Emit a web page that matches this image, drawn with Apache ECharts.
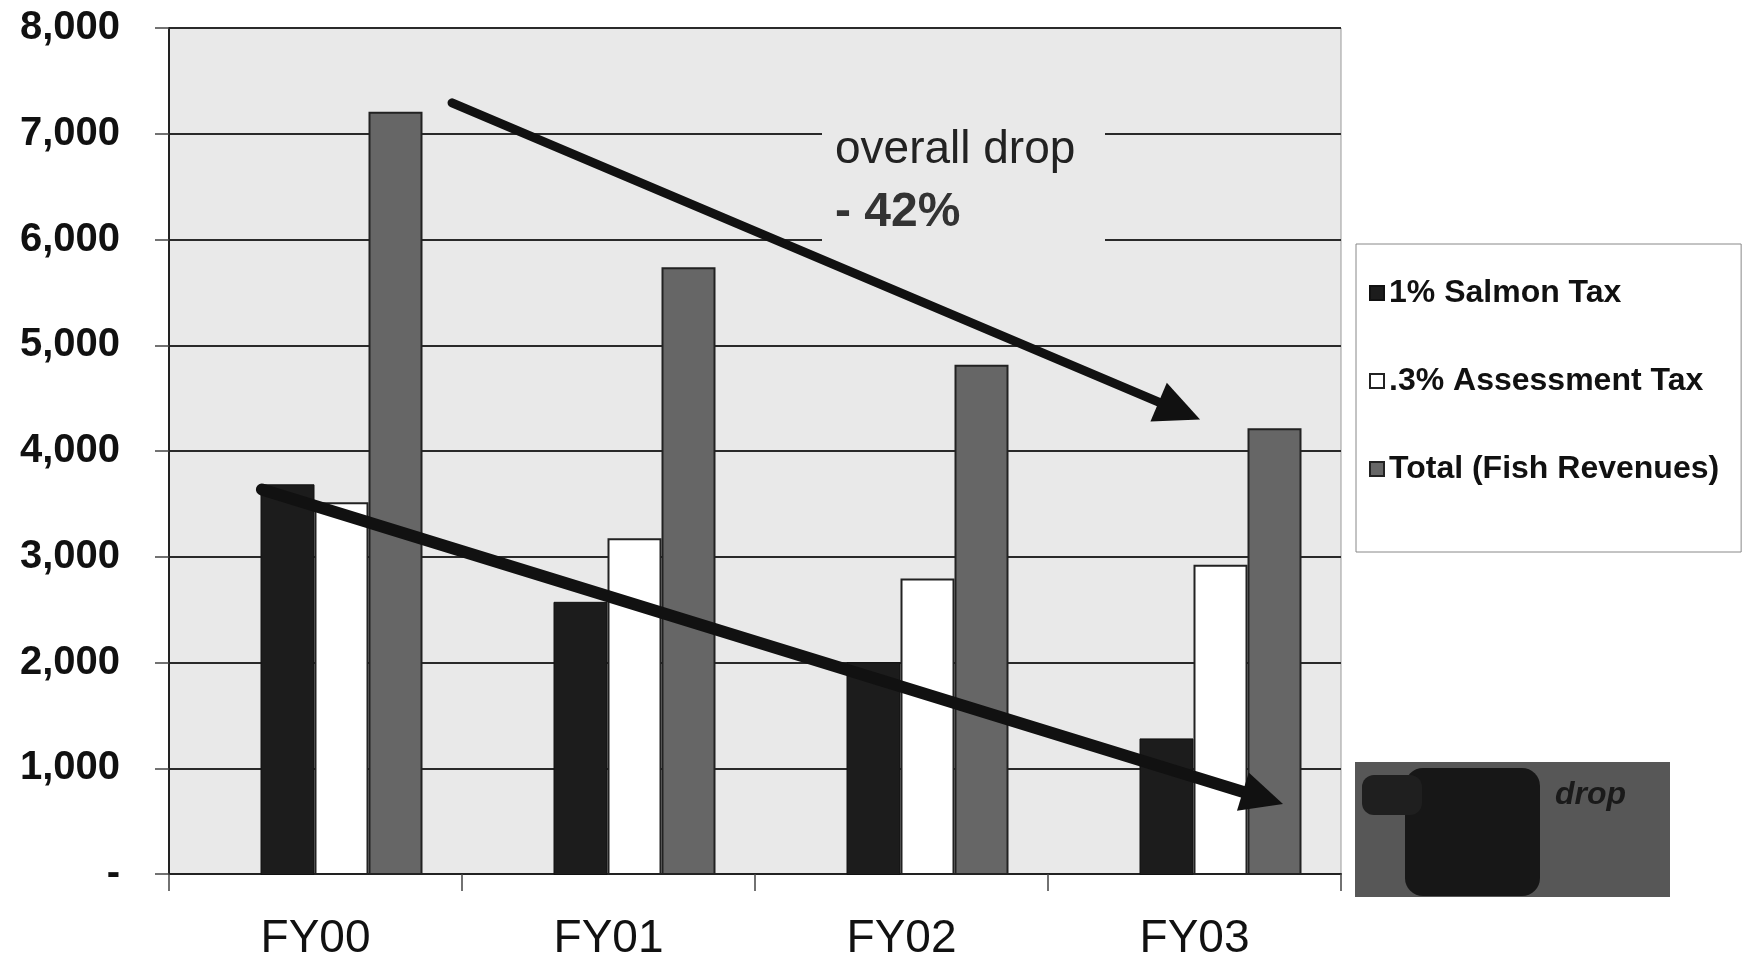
<!DOCTYPE html>
<html><head><meta charset="utf-8">
<script src="https://cdn.jsdelivr.net/npm/echarts@6/dist/echarts.min.js"></script>
<style>html,body{margin:0;padding:0;background:#fff}#c{width:1742px;height:962px}</style>
</head><body><div id="c"></div>
<script>
const categories = ['FY00', 'FY01', 'FY02', 'FY03'];
const salmonTax = [3690, 2580, 2010, 1290];
const assessmentTax = [3520, 3180, 2800, 2930];
const totalFish = [7210, 5740, 4820, 4220];
const seriesNames = ['1% Salmon Tax', '.3% Assessment Tax', 'Total (Fish Revenues)'];
const yTickLabels = ['-', '1,000', '2,000', '3,000', '4,000', '5,000', '6,000', '7,000', '8,000'];
// annotation arrows: [startCat, startValue, tipCat, tipValue] (category units 0..4)
const overallArrow = [0.966, 7292, 3.519, 4297];
const salmonArrow = [0.317, 3636, 3.802, 661];
const annotationLines = ['overall drop', '- 42%'];
const boxLabel = 'drop';

const FONT = "'Liberation Sans', Arial, sans-serif";
const arrowStyle = [{width: 9, headLen: 45, headWidth: 42}, {width: 12, headLen: 42, headWidth: 40}];

function renderArrow(params, api) {
  const st = arrowStyle[params.dataIndex];
  const p1 = api.coord([api.value(0), api.value(1)]);
  const p2 = api.coord([api.value(2), api.value(3)]);
  const dx = p2[0] - p1[0], dy = p2[1] - p1[1];
  const len = Math.sqrt(dx * dx + dy * dy);
  const ux = dx / len, uy = dy / len;
  const nx = -uy, ny = ux;
  const bx = p2[0] - ux * st.headLen, by = p2[1] - uy * st.headLen;
  return {
    type: 'group',
    children: [
      {type: 'line', shape: {x1: p1[0], y1: p1[1], x2: bx + ux * 4, y2: by + uy * 4},
       style: {stroke: '#111', lineWidth: st.width, lineCap: 'round'}},
      {type: 'polygon', shape: {points: [[p2[0], p2[1]],
        [bx + nx * st.headWidth / 2, by + ny * st.headWidth / 2],
        [bx - nx * st.headWidth / 2, by - ny * st.headWidth / 2]]},
       style: {fill: '#111'}}
    ]
  };
}

const chart = echarts.init(document.getElementById('c'), null, {renderer: 'canvas'});
chart.setOption({
  backgroundColor: '#ffffff',
  animation: false,
  textStyle: {fontFamily: FONT},
  grid: [
    {left: 169, top: 28, width: 1172, height: 847, show: true, backgroundColor: '#e9e9e9', borderColor: '#9a9a9a', borderWidth: 1},
    {left: 195, top: 28, width: 1172, height: 847, show: false}
  ],
  xAxis: [
    {type: 'category', gridIndex: 0, data: categories,
     axisLine: {lineStyle: {color: '#222', width: 2}},
     axisTick: {show: true, length: 17, lineStyle: {color: '#444', width: 1.5}},
     axisLabel: {fontSize: 46, color: '#111', margin: 42, fontFamily: FONT},
     splitLine: {show: false}},
    {type: 'category', gridIndex: 1, data: categories, show: false},
    {type: 'value', gridIndex: 0, min: 0, max: 4, show: false}
  ],
  yAxis: [
    {type: 'value', gridIndex: 0, min: 0, max: 8000, interval: 1000,
     axisLine: {show: true, lineStyle: {color: '#222', width: 2}},
     axisTick: {show: true, length: 14, lineStyle: {color: '#444', width: 1.5}},
     axisLabel: {fontSize: 40, fontWeight: 'bold', color: '#111', margin: 49, fontFamily: FONT,
                 formatter: v => yTickLabels[Math.round(v / 1000)]},
     splitLine: {show: true, lineStyle: {color: '#2a2a2a', width: 2}}},
    {type: 'value', gridIndex: 1, min: 0, max: 8000, interval: 1000, show: false}
  ],
  legend: {
    data: seriesNames, orient: 'vertical', left: 1356, top: 244,
    padding: [33, 22, 67, 13], itemGap: 56, itemWidth: 14, itemHeight: 14,
    borderColor: '#888', borderWidth: 1, backgroundColor: '#ffffff',
    icon: 'rect', selectedMode: false,
    textStyle: {fontSize: 32, fontWeight: 'bold', color: '#111', fontFamily: FONT}
  },
  series: [
    {name: seriesNames[0], type: 'bar', xAxisIndex: 1, yAxisIndex: 1, data: salmonTax, barWidth: 54, barGap: '0%',
     itemStyle: {color: '#1c1c1c', borderColor: '#111', borderWidth: 1}},
    {name: seriesNames[1], type: 'bar', xAxisIndex: 1, yAxisIndex: 1, data: assessmentTax, barWidth: 54, barGap: '0%',
     itemStyle: {color: '#ffffff', borderColor: '#222', borderWidth: 2}},
    {name: seriesNames[2], type: 'bar', xAxisIndex: 1, yAxisIndex: 1, data: totalFish, barWidth: 54, barGap: '0%',
     itemStyle: {color: '#666666', borderColor: '#222', borderWidth: 2}},
    {type: 'custom', coordinateSystem: 'cartesian2d', xAxisIndex: 2, yAxisIndex: 0, z: 5, silent: true,
     renderItem: renderArrow, data: [overallArrow, salmonArrow]}
  ],
  graphic: [
    {type: 'rect', z: 10, shape: {x: 822, y: 118, width: 283, height: 132}, style: {fill: '#e9e9e9'}},
    {type: 'text', z: 11, x: 835, y: 150, style: {text: annotationLines[0], font: "46px 'Liberation Sans', Arial, sans-serif", fill: '#222', textVerticalAlign: 'middle'}},
    {type: 'text', z: 11, x: 835, y: 213, style: {text: annotationLines[1], font: "bold 48px 'Liberation Sans', Arial, sans-serif", fill: '#333', textVerticalAlign: 'middle'}},
    {type: 'rect', z: 10, shape: {x: 1355, y: 762, width: 315, height: 135}, style: {fill: '#575757'}},
    {type: 'rect', z: 11, shape: {x: 1405, y: 768, width: 135, height: 128, r: 18}, style: {fill: '#171717'}},
    {type: 'rect', z: 11, shape: {x: 1362, y: 775, width: 60, height: 40, r: 12}, style: {fill: '#1f1f1f'}},
    {type: 'text', z: 12, x: 1555, y: 795, style: {text: boxLabel, font: "bold italic 32px 'Liberation Sans', Arial, sans-serif", fill: '#1a1a1a', textVerticalAlign: 'middle'}}
  ]
});
</script>
</body></html>
